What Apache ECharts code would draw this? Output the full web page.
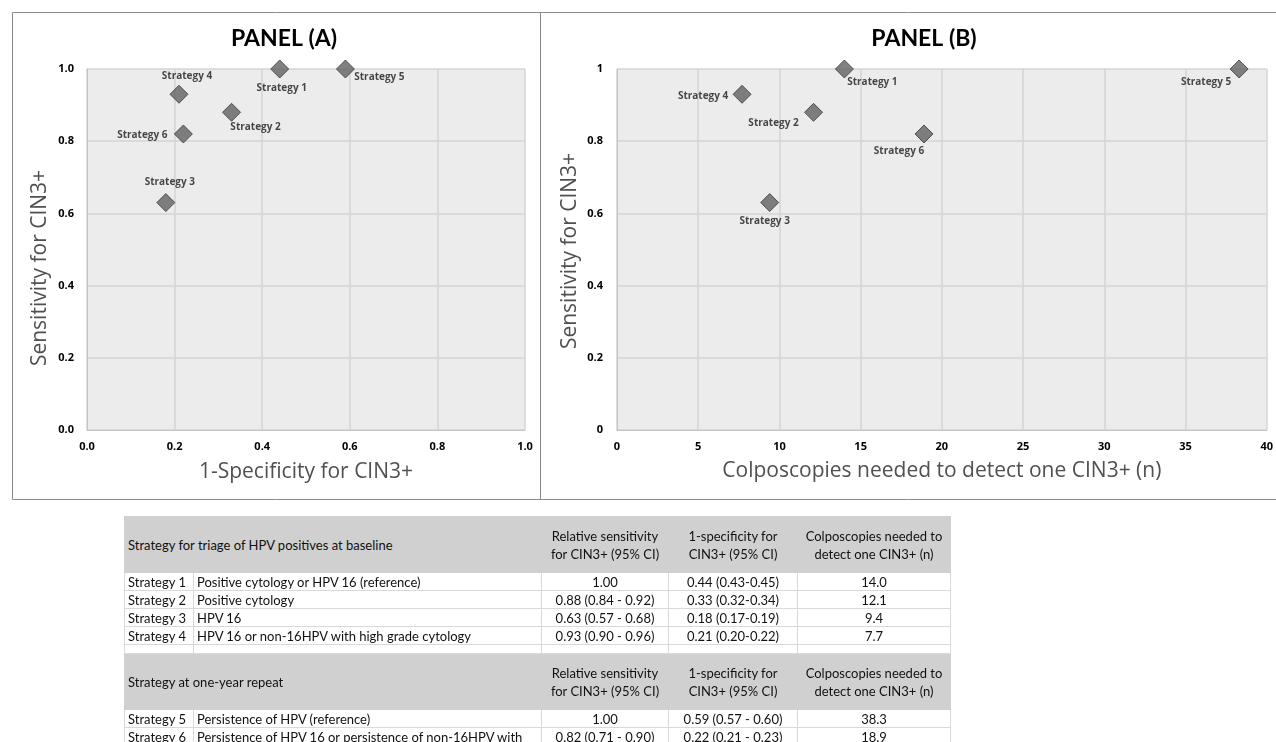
<!DOCTYPE html>
<html><head><meta charset="utf-8">
<script src="https://cdn.jsdelivr.net/npm/echarts@6/dist/echarts.min.js"></script>
<style>
html,body{margin:0;padding:0;background:#fff;overflow:hidden;}
#wrap{position:relative;width:1276px;height:742px;overflow:hidden;}
#chart{position:absolute;left:0;top:0;width:1276px;height:742px;}
#tbl{position:absolute;left:124px;top:516px;border-collapse:collapse;table-layout:fixed;width:826px;
 font-family:Lato,'Open Sans',sans-serif;font-size:13px;color:#111;}
#tbl td{border:1px solid #d9d9d9;padding:0 3px;white-space:nowrap;overflow:hidden;line-height:16px;height:17px;}
#tbl td.c{text-align:center;}
#tbl tr.hd td{background:#d0d0d0;border-color:#d0d0d0;height:55px;line-height:18px;vertical-align:middle;}
#tbl tr.sp td{height:8px;line-height:8px;}
</style></head><body>
<div id="wrap"><div id="chart"></div><table id="tbl"></table></div>
<script>
// ---- data ----
const strategies = ['Strategy 1','Strategy 2','Strategy 3','Strategy 4','Strategy 5','Strategy 6'];
const oneMinusSpec = [0.44, 0.33, 0.18, 0.21, 0.59, 0.22];
const sensitivity = [1.00, 0.88, 0.63, 0.93, 1.00, 0.82];
const colposcopies = [14.0, 12.1, 9.4, 7.7, 38.3, 18.9];
const descriptions = [
  'Positive cytology or HPV 16 (reference)',
  'Positive cytology',
  'HPV 16',
  'HPV 16 or non-16HPV with high grade cytology',
  'Persistence of HPV (reference)',
  'Persistence of HPV 16 or persistence of non-16HPV with'
];
const sensCI = ['1.00','0.88 (0.84 - 0.92)','0.63 (0.57 - 0.68)','0.93 (0.90 - 0.96)','1.00','0.82 (0.71 - 0.90)'];
const specCI = ['0.44 (0.43-0.45)','0.33 (0.32-0.34)','0.18 (0.17-0.19)','0.21 (0.20-0.22)','0.59 (0.57 - 0.60)','0.22 (0.21 - 0.23)'];
const groupTitles = ['Strategy for triage of HPV positives at baseline','Strategy at one-year repeat'];
const groups = [[0,1,2,3],[4,5]];
const colHeaders = [['Relative sensitivity','for CIN3+ (95% CI)'],['1-specificity for','CIN3+ (95% CI)'],['Colposcopies needed to','detect one CIN3+ (n)']];
const panelTitles = ['PANEL (A)','PANEL (B)'];
const xNames = ['1-Specificity for CIN3+','Colposcopies needed to detect one CIN3+ (n)'];
const yName = 'Sensitivity for CIN3+';

// ---- layout (label offsets relative to marker centre) ----
const offA = [[2,19],[24,15],[4,-20],[8,-18],[34,8],[-41,1]];
const offB = [[28,13],[-40,11],[-5,19],[-39,2],[-33,13],[-25,17]];

const FONT = 'Lato';
const BFONT = 'Open Sans';
const chart = echarts.init(document.getElementById('chart'), null, {renderer:'canvas'});

function axisCommon(){
  return {
    type:'value',
    axisLine:{show:true,lineStyle:{color:'#c4c4c4',width:1}},
    axisTick:{show:false},
    splitLine:{show:true,lineStyle:{color:'#d4d4d4',width:1.5}},
    axisLabel:{fontFamily:BFONT,fontWeight:'bold',fontSize:11,color:'#000'},
    nameTextStyle:{fontFamily:BFONT,fontSize:21,color:'#505050'}
  };
}
const labelStyle = {show:true,position:'inside',formatter:'{b}',fontFamily:BFONT,fontWeight:'bold',fontSize:10,color:'#1a1a1a'};
const itemStyle = {color:'#616161',borderColor:'#3a3a3a',borderWidth:1};

const option = {
  animation:false,
  textStyle:{fontFamily:FONT},
  grid:[
    {left:87,top:69,width:438,height:361,show:true,backgroundColor:'#ececec',borderWidth:0},
    {left:617,top:69,width:654,height:361,show:true,backgroundColor:'#ececec',borderWidth:0}
  ],
  xAxis:[
    Object.assign(axisCommon(),{gridIndex:0,min:0,max:1,interval:0.2,name:xNames[0],nameLocation:'middle',nameGap:32,
      axisLabel:Object.assign(axisCommon().axisLabel,{margin:11,formatter:v=>v.toFixed(1)})}),
    Object.assign(axisCommon(),{gridIndex:1,min:0,max:40,interval:5,name:xNames[1],nameLocation:'middle',nameGap:31,
      axisLabel:Object.assign(axisCommon().axisLabel,{margin:11})})
  ],
  yAxis:[
    Object.assign(axisCommon(),{gridIndex:0,min:0,max:1,interval:0.2,
      axisLabel:Object.assign(axisCommon().axisLabel,{margin:13,formatter:v=>v.toFixed(1)})}),
    Object.assign(axisCommon(),{gridIndex:1,min:0,max:1,interval:0.2,
      axisLabel:Object.assign(axisCommon().axisLabel,{margin:14})})
  ],
  series:[
    {type:'scatter',xAxisIndex:0,yAxisIndex:0,symbol:'diamond',symbolSize:18,itemStyle,label:labelStyle,
      data:strategies.map((s,i)=>({name:s,value:[oneMinusSpec[i],sensitivity[i]],label:{offset:offA[i]}}))},
    {type:'scatter',xAxisIndex:1,yAxisIndex:1,symbol:'diamond',symbolSize:18,itemStyle,label:labelStyle,
      data:strategies.map((s,i)=>({name:s,value:[colposcopies[i],sensitivity[i]],label:{offset:offB[i]}}))}
  ],
  graphic:[
    {type:'rect',shape:{x:12.5,y:12.5,width:528,height:487},style:{fill:null,stroke:'#8a8a8a',lineWidth:1},silent:true},
    {type:'rect',shape:{x:540.5,y:12.5,width:760,height:487},style:{fill:null,stroke:'#8a8a8a',lineWidth:1},silent:true},
    {type:'text',x:284,y:39,style:{text:panelTitles[0],fontFamily:FONT,fontWeight:'bold',fontSize:23,fill:'#000',align:'center',verticalAlign:'middle'}},
    {type:'text',x:924,y:39,style:{text:panelTitles[1],fontFamily:FONT,fontWeight:'bold',fontSize:23,fill:'#000',align:'center',verticalAlign:'middle'}},
    {type:'text',x:40,y:268,rotation:Math.PI/2,style:{text:yName,fontFamily:BFONT,fontSize:21,fill:'#505050',align:'center',verticalAlign:'middle'}},
    {type:'text',x:570,y:251,rotation:Math.PI/2,style:{text:yName,fontFamily:BFONT,fontSize:21,fill:'#505050',align:'center',verticalAlign:'middle'}}
  ]
};
chart.setOption(option);

// ---- table ----
const tbl = document.getElementById('tbl');
let html = '<colgroup><col style="width:69px"><col style="width:348px"><col style="width:127px"><col style="width:129px"><col style="width:153px"></colgroup>';
groups.forEach((g,gi)=>{
  if(gi>0) html += '<tr class="sp"><td></td><td></td><td></td><td></td><td></td></tr>';
  html += '<tr class="hd"><td colspan="2">'+groupTitles[gi]+'</td>'+colHeaders.map(h=>'<td class="c">'+h[0]+'<br>'+h[1]+'</td>').join('')+'</tr>';
  g.forEach(i=>{
    html += '<tr><td>'+strategies[i]+'</td><td>'+descriptions[i]+'</td><td class="c">'+sensCI[i]+'</td><td class="c">'+specCI[i]+'</td><td class="c">'+colposcopies[i].toFixed(1)+'</td></tr>';
  });
});
tbl.innerHTML = html;
</script>
</body></html>
